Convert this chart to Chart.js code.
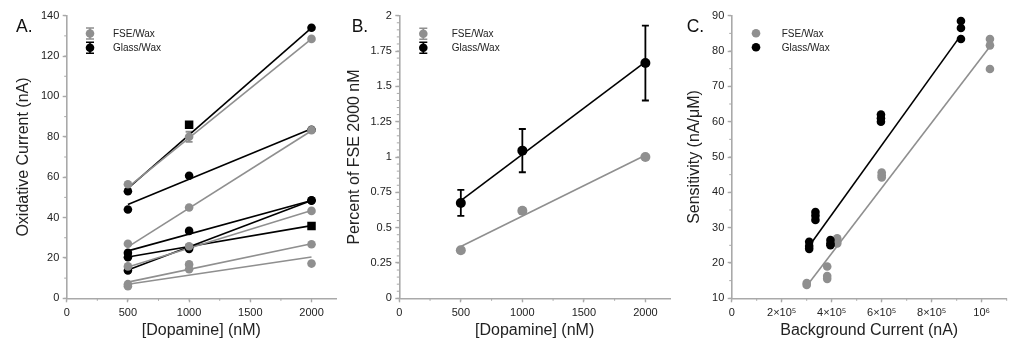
<!DOCTYPE html>
<html>
<head>
<meta charset="utf-8">
<script src="https://cdn.jsdelivr.net/npm/chart.js@4.4.0/dist/chart.umd.min.js"></script>
<style>
  body { margin: 0; background: #fff; }
  #wrap { position: relative; width: 1011px; height: 341px; overflow: hidden; }
  canvas { position: absolute; top: 0; }
</style>
</head>
<body>
<div id="wrap">
  <canvas id="chartA" width="342" height="341" style="left:0"></canvas>
  <canvas id="chartB" width="335" height="341" style="left:340px"></canvas>
  <canvas id="chartC" width="336" height="341" style="left:675px"></canvas>
</div>
<script>
// ---------- data ----------
const seriesNames = ['FSE/Wax', 'Glass/Wax'];

// A. oxidative current for each electrode (nA)
const concA = [500, 1000, 2000];
const fseA = [
  [56.5, 80, 128.5],
  [27, 45, 83.3],
  [15.8, 25.8, 43.3],
  [7, 16.8, 26.8],
  [6, 14.4, 17.2]
];
const fseErrA = [[0, 2.5, 0], [0, 0, 0], [0, 0, 0], [0, 0, 0], [0, 0, 0]];
const glassA = [
  [53, 86, 134],
  [44, 60.7, 83.5],
  [22.5, 33.4, 48.4],
  [20.3, 24.5, 35.8],
  [13.8, 25.3, 48.6]
];
const glassShapeA = [
  ['circle', 'rect', 'circle'],
  ['circle', 'circle', 'circle'],
  ['circle', 'circle', 'circle'],
  ['circle', 'circle', 'rect'],
  ['circle', 'circle', 'circle']
];
const fitXA = [500, 2000];
const fseFitA = [[55, 128.5], [25.5, 83], [15.5, 43.5], [8, 27], [7, 20.5]];
const glassFitA = [[54.5, 134], [46.5, 84], [23.5, 48.5], [20.5, 36], [14, 48.5]];
const xTicksA = [0, 500, 1000, 1500, 2000];
const xLabelsA = ['0', '500', '1000', '1500', '2000'];
const yTicksA = [0, 20, 40, 60, 80, 100, 120, 140];
const yLabelsA = ['0', '20', '40', '60', '80', '100', '120', '140'];

// B. percent of FSE 2000 nM
const concB = [500, 1000, 2000];
const fseB = [0.34, 0.62, 1.0];
const fseErrB = [0.015, 0.02, 0.01];
const glassB = [0.675, 1.045, 1.665];
const glassErrB = [0.092, 0.153, 0.265];
const fitXB = [500, 2000];
const fseFitB = [0.367, 1.012];
const glassFitB = [0.692, 1.673];
const xTicksB = [0, 500, 1000, 1500, 2000];
const xLabelsB = ['0', '500', '1000', '1500', '2000'];
const yTicksB = [0, 0.25, 0.5, 0.75, 1, 1.25, 1.5, 1.75, 2];
const yLabelsB = ['0', '0.25', '0.5', '0.75', '1', '1.25', '1.5', '1.75', '2'];

// C. sensitivity vs background current
const bgFseC = [300000, 300000, 382000, 382000, 382000, 422000, 422000, 422000, 600000, 600000, 600000, 1033000, 1033000, 1033000];
const sensFseC = [13.8, 14.3, 19, 16.3, 15.5, 27, 26, 25.5, 45.6, 44.8, 44.2, 83.4, 81.6, 74.9];
const bgGlassC = [310000, 310000, 310000, 335000, 335000, 335000, 395000, 395000, 395000, 597000, 597000, 597000, 917000, 917000, 917000];
const sensGlassC = [26, 24.8, 24, 34.4, 33.4, 32.2, 26.5, 25.5, 25, 62, 61, 60, 88.5, 86.5, 83.4];
const fitXFseC = [300000, 1030000];
const fitFseC = [13.5, 81];
const fitXGlassC = [312000, 917000];
const fitGlassC = [25, 84.5];
const xTicksC = [0, 200000, 400000, 600000, 800000, 1000000];
const xLabelsC = ['0', '2×10⁵', '4×10⁵', '6×10⁵', '8×10⁵', '10⁶'];
const yTicksC = [10, 20, 30, 40, 50, 60, 70, 80, 90];
const yLabelsC = ['10', '20', '30', '40', '50', '60', '70', '80', '90'];

// ---------- styling / helpers ----------
const GRAY = '#8f8f8f';
const BLACK = '#000000';
const AXIS = '#a9a9a9';
Chart.defaults.font.family = "'Liberation Sans', Arial, sans-serif";
Chart.defaults.color = '#222';

function pts(xs, ys) { return xs.map((x, i) => ({ x: x, y: ys[i] })); }

function pointSet(label, xs, ys, color, radius, extra) {
  return Object.assign({
    label: label, data: pts(xs, ys), showLine: false,
    backgroundColor: color, borderColor: color,
    pointRadius: radius, pointBorderWidth: 0, pointHoverRadius: radius
  }, extra || {});
}
function lineSet(xs, ys, color) {
  return {
    label: '', data: pts(xs, ys), showLine: true, borderColor: color,
    backgroundColor: color, borderWidth: 1.6, pointRadius: 0, pointHoverRadius: 0
  };
}

// vertical error bars from ds.errY
const errorBars = {
  id: 'errorBars',
  beforeDatasetsDraw(chart) {
    const ctx = chart.ctx, ys = chart.scales.y;
    chart.data.datasets.forEach((ds, i) => {
      if (!ds.errY) return;
      const meta = chart.getDatasetMeta(i);
      ctx.save();
      ctx.strokeStyle = ds.borderColor;
      ctx.lineWidth = 1.8;
      meta.data.forEach((pt, j) => {
        const e = ds.errY[j];
        if (!e) return;
        const v = ds.data[j].y;
        const t = ys.getPixelForValue(v + e), b = ys.getPixelForValue(v - e);
        ctx.beginPath();
        ctx.moveTo(pt.x, t); ctx.lineTo(pt.x, b);
        ctx.moveTo(pt.x - 3.5, t); ctx.lineTo(pt.x + 3.5, t);
        ctx.moveTo(pt.x - 3.5, b); ctx.lineTo(pt.x + 3.5, b);
        ctx.stroke();
      });
      ctx.restore();
    });
  }
};

// minor ticks, legend and panel letter
function decorations(opt) {
  return {
    id: 'decor',
    afterDraw(chart) {
      const ctx = chart.ctx, x = chart.scales.x, y = chart.scales.y;
      const area = chart.chartArea;
      ctx.save();
      ctx.strokeStyle = AXIS;
      ctx.lineWidth = 1;
      ctx.beginPath();
      for (let v = y.min; v <= y.max + 1e-9; v += opt.yMinor) {
        const py = y.getPixelForValue(v);
        ctx.moveTo(area.left - 2.5, py); ctx.lineTo(area.left, py);
      }
      for (let v = x.min; v <= x.max + 1e-9; v += opt.xMinor) {
        const px = x.getPixelForValue(v);
        ctx.moveTo(px, area.bottom); ctx.lineTo(px, area.bottom + 2.5);
      }
      ctx.stroke();

      // legend
      const colors = [GRAY, BLACK];
      seriesNames.forEach((name, k) => {
        const my = opt.legendY[k];
        ctx.fillStyle = colors[k];
        ctx.strokeStyle = colors[k];
        if (opt.legendErr) {
          ctx.lineWidth = 1.6;
          ctx.beginPath();
          ctx.moveTo(opt.legendX, my - 5.5); ctx.lineTo(opt.legendX, my + 5.5);
          ctx.moveTo(opt.legendX - 4, my - 5.5); ctx.lineTo(opt.legendX + 4, my - 5.5);
          ctx.moveTo(opt.legendX - 4, my + 5.5); ctx.lineTo(opt.legendX + 4, my + 5.5);
          ctx.stroke();
        }
        ctx.beginPath();
        ctx.arc(opt.legendX, my, 4.3, 0, Math.PI * 2);
        ctx.fill();
        ctx.fillStyle = '#222';
        ctx.font = "10px 'Liberation Sans', Arial, sans-serif";
        ctx.textBaseline = 'middle';
        ctx.textAlign = 'left';
        ctx.fillText(name, opt.textX, my + 0.8);
      });

      ctx.fillStyle = '#111';
      ctx.font = "17.5px 'Liberation Sans', Arial, sans-serif";
      ctx.textBaseline = 'alphabetic';
      ctx.fillText(opt.letter, opt.letterX, 31.7);
      ctx.restore();
    }
  };
}

function options(cfg) {
  return {
    responsive: false,
    animation: false,
    layout: { padding: { left: 0, top: 15.7, right: cfg.padRight, bottom: 0 } },
    plugins: { legend: { display: false }, tooltip: { enabled: false } },
    scales: {
      x: {
        type: 'linear', min: cfg.xMin, max: cfg.xMax,
        afterFit(s) { s.height = 341 - 298.3; },
        afterBuildTicks(s) { s.ticks = cfg.xTicks.map(v => ({ value: v })); },
        ticks: { callback: (v, i) => cfg.xLabels[i], padding: 3.6, color: '#222',
                 font: { size: 11 }, maxRotation: 0, autoSkip: false },
        grid: { drawOnChartArea: false, drawTicks: true, tickLength: 4, color: AXIS, tickColor: AXIS, tickWidth: 1.4 },
        border: { color: AXIS, width: 1.6 },
        title: { display: true, text: cfg.xTitle, font: { size: 16 }, color: '#222', padding: { top: 0, bottom: 1.1 } }
      },
      y: {
        type: 'linear', min: cfg.yMin, max: cfg.yMax,
        afterFit(s) { s.width = cfg.yWidth; },
        afterBuildTicks(s) { s.ticks = cfg.yTicks.map(v => ({ value: v })); },
        ticks: { callback: (v, i) => cfg.yLabels[i], padding: 3.4, color: '#222', font: { size: 11 }, autoSkip: false },
        grid: { drawOnChartArea: false, drawTicks: true, tickLength: 4, color: AXIS, tickColor: AXIS, tickWidth: 1.4 },
        border: { color: AXIS, width: 1.6 },
        title: { display: true, text: cfg.yTitle, font: { size: 16 }, color: '#222', padding: { top: cfg.yTitlePad, bottom: 0 } }
      }
    }
  };
}

// ---------- A ----------
const dsA = [];
fseA.forEach((ys, k) => dsA.push(pointSet(seriesNames[0], concA, ys, GRAY, 4.3, { errY: fseErrA[k] })));
glassA.forEach((ys, k) => dsA.push(pointSet(seriesNames[1], concA, ys, BLACK,
  glassShapeA[k].map(s => s === 'rect' ? 6 : 4.3), { pointStyle: glassShapeA[k] })));
fseFitA.forEach(f => dsA.push(lineSet(fitXA, f, GRAY)));
glassFitA.forEach(f => dsA.push(lineSet(fitXA, f, BLACK)));

new Chart(document.getElementById('chartA'), {
  type: 'scatter',
  data: { datasets: dsA },
  options: options({
    xMin: 0, xMax: 2200, yMin: 0, yMax: 140, padRight: 2.5, yWidth: 66.7, yTitlePad: 13.9,
    xTicks: xTicksA, xLabels: xLabelsA, yTicks: yTicksA, yLabels: yLabelsA,
    xTitle: '[Dopamine] (nM)', yTitle: 'Oxidative Current (nA)'
  }),
  plugins: [errorBars, decorations({ yMinor: 10, xMinor: 250, legendX: 90, legendY: [33.5, 47.7], textX: 113, legendErr: true, letter: 'A.', letterX: 16 })]
});

// ---------- B ----------
new Chart(document.getElementById('chartB'), {
  type: 'scatter',
  data: {
    datasets: [
      pointSet(seriesNames[1], concB, glassB, BLACK, 5, { errY: glassErrB }),
      pointSet(seriesNames[0], concB, fseB, GRAY, 5, { errY: fseErrB }),
      lineSet(fitXB, glassFitB, BLACK),
      lineSet(fitXB, fseFitB, GRAY)
    ]
  },
  options: options({
    xMin: 0, xMax: 2200, yMin: 0, yMax: 2, padRight: 2, yWidth: 59.3, yTitlePad: 5.4,
    xTicks: xTicksB, xLabels: xLabelsB, yTicks: yTicksB, yLabels: yLabelsB,
    xTitle: '[Dopamine] (nM)', yTitle: 'Percent of FSE 2000 nM'
  }),
  plugins: [errorBars, decorations({ yMinor: 0.05, xMinor: 250, legendX: 83.3, legendY: [33.8, 47.7], textX: 111.7, legendErr: true, letter: 'B.', letterX: 11.7 })]
});

// ---------- C ----------
new Chart(document.getElementById('chartC'), {
  type: 'scatter',
  data: {
    datasets: [
      pointSet(seriesNames[1], bgGlassC, sensGlassC, BLACK, 4.3),
      pointSet(seriesNames[0], bgFseC, sensFseC, GRAY, 4.3),
      lineSet(fitXGlassC, fitGlassC, BLACK),
      lineSet(fitXFseC, fitFseC, GRAY)
    ]
  },
  options: options({
    xMin: 0, xMax: 1100000, yMin: 10, yMax: 90, padRight: 4.3, yWidth: 56.7, yTitlePad: 10.4,
    xTicks: xTicksC, xLabels: xLabelsC, yTicks: yTicksC, yLabels: yLabelsC,
    xTitle: 'Background Current (nA)', yTitle: 'Sensitivity (nA/μM)'
  }),
  plugins: [decorations({ yMinor: 5, xMinor: 100000, legendX: 81, legendY: [33.3, 47.3], textX: 106.7, legendErr: false, letter: 'C.', letterX: 11.7 })]
});
</script>
</body>
</html>
